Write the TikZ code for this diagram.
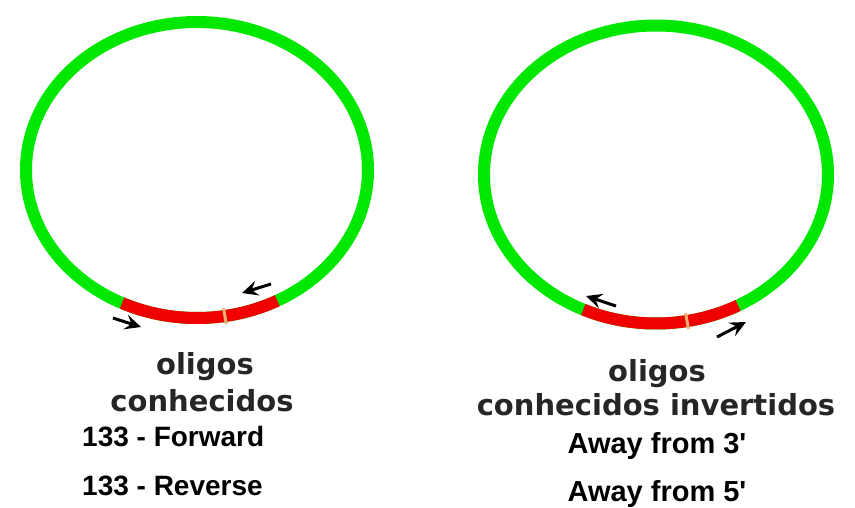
\documentclass[tikz,border=0pt]{standalone}
\usepackage{fontspec}
\usetikzlibrary{arrows.meta}
\newfontfamily\djv{DejaVu Sans}
\newfontfamily\arialb{Liberation Sans}
\definecolor{ringgreen}{RGB}{0,232,0}
\definecolor{ringred}{RGB}{240,0,0}
\definecolor{ticko}{RGB}{240,175,115}
\begin{document}
\begin{tikzpicture}[x=1pt,y=-1pt,
  ring/.style={line width=12pt, draw=ringgreen},
  seg/.style={line width=12pt, draw=ringred},
  tickmark/.style={line width=3pt, draw=ticko},
  oligo/.style={-{Stealth[length=16pt,width=15pt,inset=6pt]}, line width=3pt, black},
  title/.style={font=\djv\bfseries\fontsize{29}{33}\selectfont, text=black!85, inner sep=0pt},
  lbl/.style={font=\arialb\bfseries\fontsize{28}{32}\selectfont, inner sep=0pt},
  lblr/.style={font=\arialb\bfseries\fontsize{29}{33}\selectfont, inner sep=0pt}]
\useasboundingbox (0,0) rectangle (855,507);
\fill[white] (0,0) rectangle (855,507);
% left plasmid
\draw[ring] (197,170) ellipse [x radius=171, y radius=148];
\draw[seg] ([shift={(62:171 and 148)}]197,170) arc [start angle=62, end angle=116, x radius=171, y radius=148];
\draw[tickmark] ([shift={(80.6:163 and 140)}]197,170) -- ([shift={(80.6:179 and 156)}]197,170);
% right plasmid
\draw[ring] (656,174.5) ellipse [x radius=172, y radius=149];
\draw[seg] ([shift={(61.5:172 and 149)}]656,174.5) arc [start angle=61.5, end angle=115, x radius=172, y radius=149];
\draw[tickmark] ([shift={(79.6:164 and 141)}]656,174.5) -- ([shift={(79.6:180 and 157)}]656,174.5);
% arrows
\coordinate (a1t) at (113,318); \coordinate (a1h) at (141,327);
\coordinate (a2t) at (271,284); \coordinate (a2h) at (242,293);
\coordinate (a3t) at (616,306); \coordinate (a3h) at (586,296);
\coordinate (a4t) at (717,337); \coordinate (a4h) at (746,322);
\draw[oligo] (a1t) -- (a1h);
\draw[oligo] (a2t) -- (a2h);
\draw[oligo] (a3t) -- (a3h);
\draw[oligo] (a4t) -- (a4h);
% texts
\node[title] (l1) at (205,367) {oligos};
\node[title] (l2) at (202,401) {conhecidos};
\node[title] (r1) at (657,374) {oligos};
\node[title] (r2) at (656,405) {conhecidos invertidos};
\node[lbl, anchor=west] (lf) at (82,437) {133 - Forward};
\node[lbl, anchor=west] (lr) at (82,486) {133 - Reverse};
\node[lblr] (ra) at (657,446) {Away from 3'};
\node[lblr] (rb) at (657,494) {Away from 5'};
\end{tikzpicture}
\end{document}
